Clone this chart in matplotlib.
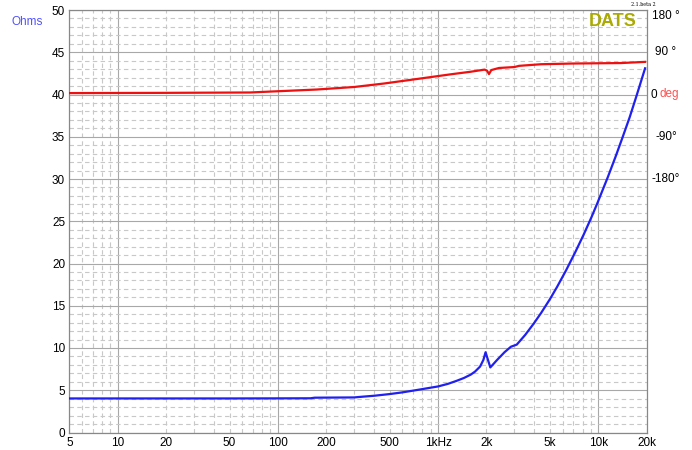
# DATS impedance / phase sweep
import matplotlib
matplotlib.use('Agg')
from matplotlib import pyplot as plt
from matplotlib.ticker import LogLocator, MultipleLocator, FuncFormatter
import matplotlib.transforms as mtrans

plt.rcParams['font.family'] = ['Liberation Sans', 'DejaVu Sans']

# impedance (ohms)
imp_freq = [5, 10, 20, 50, 100, 160, 170, 300, 320, 400, 500, 600, 750, 1000, 1150,
            1300, 1450, 1600, 1700, 1830, 1920, 1980, 2120, 2340, 2600, 2850, 3100,
            3500, 3960, 4400, 5000, 5540, 6300, 7210, 8100, 9080, 9900, 11460, 12800,
            14100, 15700, 17300, 19600]
imp = [4.03, 4.03, 4.03, 4.03, 4.04, 4.05, 4.12, 4.15, 4.2, 4.35, 4.55, 4.75, 5.05, 5.45, 5.75,
       6.1, 6.45, 6.85, 7.2, 7.8, 8.6, 9.5, 7.7, 8.6, 9.5, 10.15, 10.4,
       11.55, 12.9, 14.15, 15.8, 17.25, 19.2, 21.4, 23.4, 25.5, 27.2, 30.2, 32.6,
       34.8, 37.3, 39.8, 43.1]

# phase (degrees)
ph_freq = [5, 20, 67, 175, 300, 460, 775, 1200, 1600, 1950, 2020, 2080, 2150, 2400,
           3000, 3200, 4400, 7000, 13900, 19600]
phase = [3, 3.5, 4.3, 10.6, 16, 23.4, 34, 43, 48.5, 53, 51, 43.5, 52, 56.5,
         58.5, 61, 64.5, 66, 67, 69.5]

xtick_vals = [5, 10, 20, 50, 100, 200, 500, 1000, 2000, 5000, 10000, 20000]
xtick_labels = ['5', '10', '20', '50', '100', '200', '500', '1kHz', '2k', '5k', '10k', '20k']
ph_ticks = [180, 90, -90, -180]
ph_labels = ['180 °', '90 °', '-90°', '-180°']

fig = plt.figure(figsize=(6.92, 4.5), dpi=100)
ax = fig.add_axes([69.3 / 692, 17.5 / 450, 577.2 / 692, 422.5 / 450])

ax.set_xscale('log')
ax.set_xlim(5, 20000)
ax.set_ylim(0, 50)

lab = dict(zip(xtick_vals, xtick_labels))
fmt = FuncFormatter(lambda v, p: lab.get(int(round(v)), ''))
ax.xaxis.set_major_locator(LogLocator(base=10))
ax.xaxis.set_minor_locator(LogLocator(base=10, subs=range(2, 10)))
ax.xaxis.set_major_formatter(fmt)
ax.xaxis.set_minor_formatter(fmt)
ax.yaxis.set_major_locator(MultipleLocator(5))
ax.yaxis.set_minor_locator(MultipleLocator(1))

ax.grid(which='major', color='#a8a8a8', lw=0.8, ls='-')
ax.grid(which='minor', color='#c8c8c8', lw=0.8, ls=(0, (4, 3)))
ax.set_axisbelow(True)
ax.tick_params(which='both', length=0, labelsize=8.5)
ax.tick_params(axis='x', which='both', pad=3)
ax.tick_params(axis='y', pad=3)
for s in ax.spines.values():
    s.set_color('#888888')
    s.set_linewidth(0.9)
ax.get_yticklabels()[-1].set_va('top')

ax.plot(imp_freq, imp, color='#2020f0', lw=1.6, zorder=3)

ax2 = ax.twinx()
ax2.set_ylim(-720, 180)
ax2.set_yticks([])
for s in ax2.spines.values():
    s.set_visible(False)
ax2.plot(ph_freq, phase, color='#ee1010', lw=1.6, zorder=3)

tr = mtrans.blended_transform_factory(ax2.transAxes, ax2.transData)
for v, t in zip(ph_ticks, ph_labels):
    ax2.annotate(t, xy=(1, v), xycoords=tr, xytext=(14, 0), textcoords='offset points',
                 ha='center', va='top' if v == 180 else 'center', fontsize=8.5)
ax2.annotate('0', xy=(1, 0), xycoords=tr, xytext=(5, 0), textcoords='offset points',
             ha='center', va='center', fontsize=8.5)
ax2.annotate('deg', xy=(1, 0), xycoords=tr, xytext=(9, 0), textcoords='offset points',
             ha='left', va='center', fontsize=8.5, color='#ff5050')

fig.text(12 / 692, 1 - 22 / 450, 'Ohms', color='#5050ff', fontsize=8.5, va='center')
fig.text(637 / 692, 1 - 21 / 450, 'DATS', color='#aaaa00', fontsize=13, fontweight='bold',
         ha='right', va='center')
fig.text(643 / 692, 1 - 5 / 450, '2.1.beta 2', fontsize=3.5, family='DejaVu Serif',
         ha='center', va='center')

fig.savefig('out.png', dpi=100)
